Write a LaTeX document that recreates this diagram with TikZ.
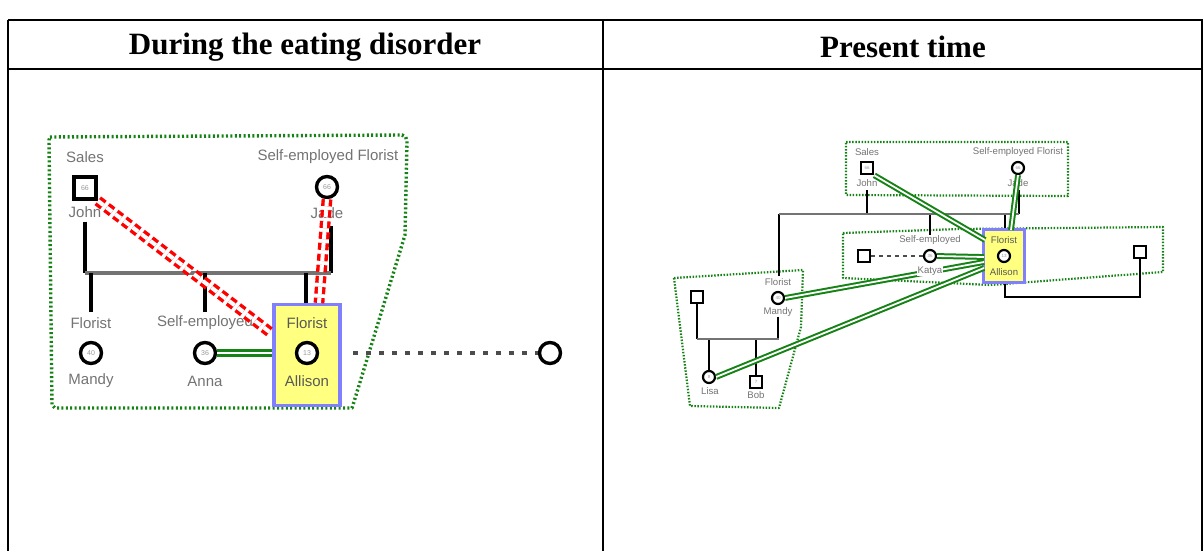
\documentclass[tikz,border=0pt]{standalone}
\usepackage{fontspec}
\setmainfont{Liberation Serif}
\setsansfont{Liberation Sans}
\begin{document}
\begin{tikzpicture}[x=1pt,y=-1pt,
  tableline/.style={line width=2.8pt,black},
  head/.style={font=\fontsize{31}{34}\selectfont\bfseries},
  lbl/.style={font=\sffamily\fontsize{15}{17}\selectfont,text=black!55,inner sep=0pt},
  slbl/.style={font=\sffamily\fontsize{9.6}{11}\selectfont,text=black!55,inner sep=0pt},
  age/.style={font=\sffamily\fontsize{7}{7}\selectfont,text=black!40,inner sep=0pt},
  sage/.style={font=\sffamily\fontsize{4.5}{5}\selectfont,text=black!40,inner sep=0pt},
  fem/.style={circle,draw=black,line width=3.4pt,fill=white,minimum size=21pt,inner sep=0pt},
  male/.style={rectangle,draw=black,line width=3.6pt,fill=white,minimum size=22pt,inner sep=0pt},
  sfem/.style={circle,draw=black,line width=2.2pt,fill=white,minimum size=12pt,inner sep=0pt},
  smale/.style={rectangle,draw=black,line width=2.2pt,fill=white,minimum size=12.5pt,inner sep=0pt},
  abox/.style={rectangle,draw={rgb,255:red,128;green,128;blue,255},fill={rgb,255:red,255;green,255;blue,128},inner sep=0pt},
  kin/.style={black,line width=3.6pt},
  skin/.style={black,line width=2.2pt},
  famline/.style={black!55,line width=3.8pt},
  sfamline/.style={black!55,line width=2.4pt},
  rel/.style={draw={rgb,255:red,20;green,130;blue,20},double=white,double distance=2.4pt,line width=3.2pt},
  srel/.style={draw={rgb,255:red,20;green,130;blue,20},double=white,double distance=1.8pt,line width=2pt},
  conf/.style={draw=red,double=white,double distance=4pt,line width=3.4pt,dash pattern=on 7pt off 4pt},
  distant/.style={black!70,line width=3.4pt,dash pattern=on 5pt off 8pt},
  sdistant/.style={black!70,line width=2.2pt,dash pattern=on 4pt off 4pt},
  bound/.style={draw={rgb,255:red,20;green,130;blue,20},line width=3.4pt,dash pattern=on 2pt off 2.4pt,line join=round},
  sbound/.style={draw={rgb,255:red,20;green,130;blue,20},line width=2.2pt,dash pattern=on 1.5pt off 1.6pt,line join=round}
]
\useasboundingbox (0,0) rectangle (1203,551);
% ---------- table ----------
\coordinate (tl) at (8,20);
\coordinate (tr) at (1203,20);
\coordinate (hl) at (8,69);
\coordinate (hr) at (1203,69);
\coordinate (bl) at (8,551);
\coordinate (ml) at (603,20);
\coordinate (mb) at (603,551);
\coordinate (rb) at (1201.5,551);
\coordinate (rt) at (1201.5,20);
\draw[tableline] (tl) -- (tr);
\draw[tableline] (hl) -- (hr);
\draw[tableline] (tl) -- (bl);
\draw[black,line width=1.6pt] (ml) -- (mb);
\draw[black,line width=2pt] (rt) -- (rb);
\node[head] (h1) at (305,47) {During the eating disorder};
\node[head] (h2) at (903,47) {Present time};

% ---------- left panel ----------
\draw[bound] (50,137) -- (402,135) to[out=0,in=90] (407,141) -- (405,235) -- (353,405) -- (352,408) -- (55,408) -- (52,405) -- (49,140) -- cycle;

\node[male] (john) at (85,188) {};
\node[age] (johnage) at (john) {66};
\node[lbl] (johnjob) at (85,157) {Sales};
\node[lbl] (johnname) at (85,212) {John};

\node[fem] (jade) at (327,187) {};
\node[age] (jadeage) at (jade) {66};
\node[lbl] (jadejob) at (328,157) {Self-employed Florist};
\node[lbl] (jadename) at (327,213) {Jade};

\coordinate (fl) at (85,273);
\coordinate (fr) at (331,273);
\draw[kin] (johnname.south) ++(0,4) coordinate (js) -- (js |- fl);
\coordinate (jdtop) at (331,226);
\draw[kin] (jdtop) -- (jdtop |- fr);
\draw[famline] (fl) -- (fr);

\node[fem] (mandy) at (91,353) {};
\node[age] (mandyage) at (mandy) {40};
\node[lbl] (mandyjob) at (91,323) {Florist};
\node[lbl] (mandyname) at (91,381) {Mandy};

\node[fem] (anna) at (205,353) {};
\node[age] (annaage) at (anna) {36};
\node[lbl] (annajob) at (205,323) {Self-employed};
\node[lbl] (annaname) at (205,381) {Anna};

\node[abox,line width=3.4pt,minimum width=66pt,minimum height=101pt] (allbox) at (307,355) {};
\node[fem] (allison) at (307,353) {};
\node[age] (allage) at (allison) {13};
\node[lbl,text=black!65] (alljob) at (307,323) {Florist};
\node[lbl,text=black!65] (allname) at (307,381) {Allison};

\coordinate (mtop) at (91,312);
\coordinate (atop) at (205,312);
\coordinate (altop) at (306,303);
\draw[kin] (mtop) -- (mtop |- fl);
\draw[kin] (atop) -- (atop |- fl);
\draw[kin] (altop) -- (altop |- fr);

\draw[rel] (anna.east) -- (anna.east -| allbox.west);
\coordinate (rc) at (271,333);
\draw[conf] (john.south east) -- (rc);
\coordinate (jc) at (319,303);
\draw[conf] (jade.south) -- (jc);

\node[fem] (other) at (550,353) {};
\coordinate (dstart) at (353,353);
\draw[distant] (dstart) -- (other.west);

% ---------- right panel ----------
\draw[sbound] (846,142) -- (1068,142) -- (1068,196) -- (846,195) -- cycle;
\draw[sbound] (843,233) -- (960,229) -- (1163,227) -- (1163,272) -- (990,285) -- (843,278) -- cycle;
\draw[sbound] (674,278) -- (803,270) -- (801,327) -- (779,408) -- (690,406) -- cycle;

\node[smale] (rjohn) at (867,168) {};
\node[sage] at (rjohn) {66};
\node[slbl] (rjohnjob) at (867,152) {Sales};
\node[slbl] (rjohnname) at (867,183) {John};

\node[sfem] (rjade) at (1018,168) {};
\node[sage] at (rjade) {66};
\node[slbl] (rjadejob) at (1018,152) {Self-employed Florist};
\node[slbl] (rjadename) at (1018,183) {Jade};

\coordinate (rfl) at (779,214);
\coordinate (rfr) at (1019,214);
\coordinate (rjs) at (867,190);
\coordinate (rjds) at (1019,190);
\draw[skin] (rjs) -- (rjs |- rfl);
\draw[skin] (rjds) -- (rjds |- rfr);

\node[sfem] (katya) at (930,256) {};
\node[sage] at (katya) {36};
\node[slbl] (katyajob) at (930,240) {Self-employed};
\node[smale] (kpartner) at (864,256) {};
\draw[sdistant] (kpartner.east) -- (katya.west);

\node[abox,line width=2.4pt,minimum width=41pt,minimum height=53pt] (rallbox) at (1004,256) {};
\node[sfem] (rallison) at (1004,256) {};
\node[sage] at (rallison) {13};
\node[slbl,text=black!65] (ralljob) at (1004,240) {Florist};
\node[slbl,text=black!65] (rallname) at (1004,272) {Allison};

\node[smale] (rpartner) at (1140,252) {};
\coordinate (rcorner) at (1140,297);
\coordinate (rcorner2) at (1005,297);
\draw[skin] (rpartner.south) -- (rcorner) -- (rcorner2) -- (rallbox.south -| rcorner2);

\node[smale] (mpartner) at (697,297) {};
\node[sfem] (rmandy) at (778,298) {};
\node[sage] at (rmandy) {40};
\node[slbl] (rmandyjob) at (778,282) {Florist};
\node[slbl] (rmandyname) at (778,312) {Mandy};

\coordinate (rkt) at (930,214);
\coordinate (ralt) at (1005,214);
\coordinate (rmt) at (779,276);
\draw[skin] (rkt) -- (katyajob.north -| rkt);
\draw[skin] (ralt) -- (rallbox.north -| ralt);
\draw[skin] (rmt) -- (rmt |- rfl);
\draw[sfamline] (rfl) -- (rfr);

\coordinate (mfl) at (697,339);
\coordinate (mfr) at (779,339);
\node[sfem] (lisa) at (709,377) {};
\node[sage] at (lisa) {8};
\node[slbl] (lisaname) at (710,391) {Lisa};
\node[smale] (bob) at (756,382) {};
\node[sage] at (bob) {7};
\node[slbl] (bobname) at (756,395) {Bob};
\draw[skin] (mpartner.south) -- (mpartner.south |- mfl);
\draw[skin] (rmandyname.south) -- (rmandyname.south |- mfr);
\draw[skin] (lisa.north) -- (lisa.north |- mfl);
\draw[skin] (bob.north) -- (bob.north |- mfl);
\draw[sfamline] (mfl) -- (mfr);

\coordinate (ra1) at (985,240);
\coordinate (ra2) at (984,257);
\coordinate (ra3) at (984,262);
\coordinate (ra4) at (984,268);
\coordinate (ra5) at (1011,230);
\draw[srel] (rjohn.south east) -- (ra1);
\draw[srel] (rjade.south) -- (ra5);
\draw[srel] (katya.east) -- (ra2);
\draw[srel] (rmandy.east) -- (ra3);
\draw[srel] (lisa.east) -- (ra4);
\node[slbl,fill=white,inner sep=0.8pt] (katyaname) at (930,271) {Katya};
\end{tikzpicture}
\end{document}
